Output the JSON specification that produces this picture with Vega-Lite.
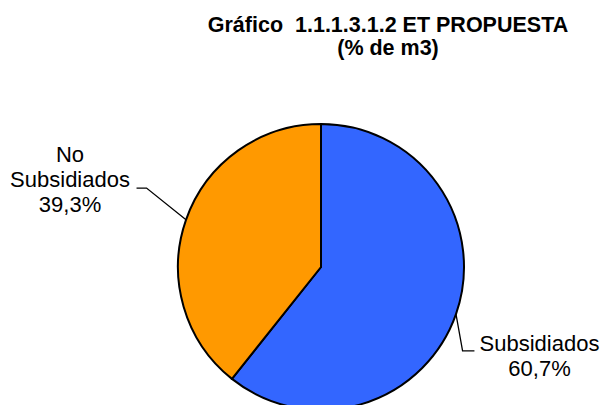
{
  "$schema": "https://vega.github.io/schema/vega-lite/v6.json",
  "width": 286,
  "height": 286,
  "autosize": {"type": "none"},
  "padding": {"left": 178, "top": 124, "right": 139, "bottom": 0},
  "background": "white",
  "title": {
    "text": ["Gráfico \u00a01.1.1.3.1.2 ET PROPUESTA", "(% de m3)"],
    "font": "Liberation Sans",
    "fontSize": 21.5,
    "fontWeight": "bold",
    "color": "black",
    "anchor": "middle",
    "dx": 67,
    "dy": -57,
    "lineHeight": 23
  },
  "config": {"view": {"stroke": null}},
  "datasets": {
    "slices": [
      {"slice": "Subsidiados", "pct": 60.7},
      {"slice": "No Subsidiados", "pct": 39.3}
    ],
    "leaders": [
      {"leader": "Subsidiados", "step": 1, "x": 0.944, "y": -0.33},
      {"leader": "Subsidiados", "step": 2, "x": 0.99, "y": -0.587},
      {"leader": "Subsidiados", "step": 3, "x": 1.073, "y": -0.587},
      {"leader": "No Subsidiados", "step": 1, "x": -0.944, "y": 0.33},
      {"leader": "No Subsidiados", "step": 2, "x": -1.22, "y": 0.552},
      {"leader": "No Subsidiados", "step": 3, "x": -1.29, "y": 0.552}
    ],
    "labels": [
      {"label": "Subsidiados\n60,7%", "x": 1.528, "y": -0.587},
      {"label": "No\nSubsidiados\n39,3%", "x": -1.755, "y": 0.734}
    ]
  },
  "layer": [
    {
      "data": {"name": "slices"},
      "mark": {"type": "arc", "stroke": "black", "strokeWidth": 2},
      "encoding": {
        "theta": {"field": "pct", "type": "quantitative", "stack": true},
        "order": {"field": "slice", "type": "nominal", "sort": "descending"},
        "color": {
          "field": "slice",
          "type": "nominal",
          "scale": {"domain": ["Subsidiados", "No Subsidiados"], "range": ["#3366FF", "#FF9900"]},
          "legend": null
        }
      }
    },
    {
      "data": {"name": "leaders"},
      "mark": {"type": "line", "color": "black", "strokeWidth": 1.3},
      "encoding": {
        "x": {"field": "x", "type": "quantitative", "scale": {"domain": [-1, 1], "nice": false, "zero": false}, "axis": null},
        "y": {"field": "y", "type": "quantitative", "scale": {"domain": [-1, 1], "nice": false, "zero": false}, "axis": null},
        "detail": {"field": "leader", "type": "nominal"},
        "order": {"field": "step", "type": "quantitative"}
      }
    },
    {
      "data": {"name": "labels"},
      "mark": {"type": "text", "font": "Liberation Sans", "fontSize": 22, "lineBreak": "\n", "lineHeight": 25, "align": "center", "baseline": "alphabetic", "color": "black"},
      "encoding": {
        "x": {"field": "x", "type": "quantitative", "scale": {"domain": [-1, 1], "nice": false, "zero": false}, "axis": null},
        "y": {"field": "y", "type": "quantitative", "scale": {"domain": [-1, 1], "nice": false, "zero": false}, "axis": null},
        "text": {"field": "label", "type": "nominal"}
      }
    }
  ]
}
